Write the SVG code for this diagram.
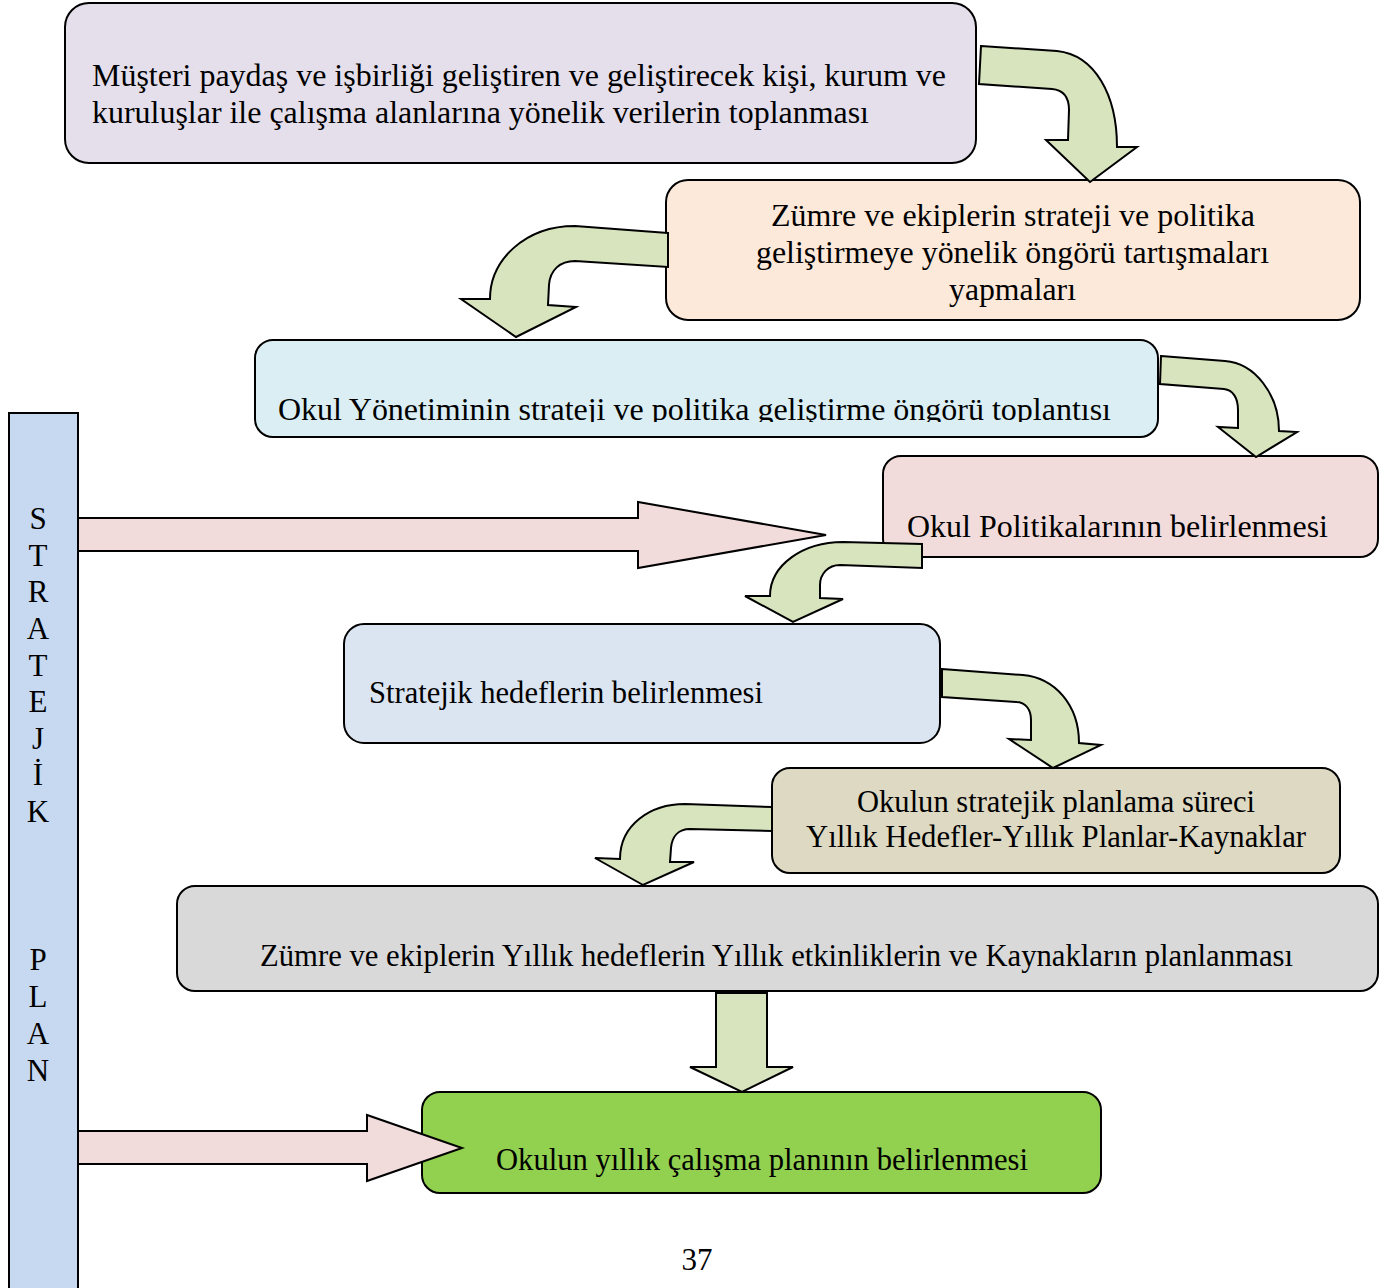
<svg xmlns="http://www.w3.org/2000/svg" width="1395" height="1288" viewBox="0 0 1395 1288">
<style>
.box{stroke:#000;stroke-width:2}
.t{font-family:"Liberation Serif","Times New Roman",serif;font-size:31px;fill:#000}
.c{text-anchor:middle}
.g{fill:#d7e4bd;stroke:#000;stroke-width:2;stroke-linejoin:miter}
.p{fill:#f2dcdb;stroke:#000;stroke-width:2}
</style>
<defs>
<clipPath id="clip3"><rect x="255" y="340" width="903" height="82"/></clipPath>
</defs>
<rect width="1395" height="1288" fill="#fff"/>

<g id="side-bar">
<rect x="9" y="413" width="69" height="890" fill="#c6d9f1" class="box"/>
<g class="t c">
<text x="38" y="529">S</text>
<text x="38" y="566">T</text>
<text x="38" y="602">R</text>
<text x="38" y="639">A</text>
<text x="38" y="676">T</text>
<text x="38" y="712">E</text>
<text x="38" y="749">J</text>
<text x="38" y="785">İ</text>
<text x="38" y="822">K</text>
<text x="38" y="970">P</text>
<text x="38" y="1007">L</text>
<text x="38" y="1044">A</text>
<text x="38" y="1081">N</text>
</g>
</g>

<g id="node1">
<rect x="65" y="3" width="911" height="160" rx="24" fill="#e5dfec" class="box"/>
<text class="t" x="92" y="86" textLength="854" lengthAdjust="spacingAndGlyphs">Müşteri paydaş ve işbirliği geliştiren ve geliştirecek kişi, kurum ve</text>
<text class="t" x="92" y="123" textLength="777" lengthAdjust="spacingAndGlyphs">kuruluşlar ile çalışma alanlarına yönelik verilerin toplanması</text>
</g>

<g id="node2">
<rect x="666" y="180" width="694" height="140" rx="22" fill="#fde9d9" class="box"/>
<text class="t" x="771" y="226" textLength="484" lengthAdjust="spacingAndGlyphs">Zümre ve ekiplerin strateji ve politika</text>
<text class="t" x="756" y="263" textLength="513" lengthAdjust="spacingAndGlyphs">geliştirmeye yönelik öngörü tartışmaları</text>
<text class="t" x="949" y="300" textLength="127" lengthAdjust="spacingAndGlyphs">yapmaları</text>
</g>

<g id="node3">
<rect x="255" y="340" width="903" height="97" rx="18" fill="#daeef3" class="box"/>
<text class="t" x="278" y="420" clip-path="url(#clip3)" textLength="833" lengthAdjust="spacingAndGlyphs">Okul Yönetiminin strateji ve politika geliştirme öngörü toplantısı</text>
</g>

<g id="node4">
<rect x="883" y="456" width="495" height="101" rx="18" fill="#f2dcdb" class="box"/>
<text class="t" x="907" y="537" textLength="421" lengthAdjust="spacingAndGlyphs">Okul Politikalarının belirlenmesi</text>
</g>

<g id="node5">
<rect x="344" y="624" width="596" height="119" rx="20" fill="#dbe5f1" class="box"/>
<text class="t" x="369" y="703" textLength="394" lengthAdjust="spacingAndGlyphs">Stratejik hedeflerin belirlenmesi</text>
</g>

<g id="node6">
<rect x="772" y="768" width="568" height="105" rx="18" fill="#ddd9c3" class="box"/>
<text class="t" x="857" y="812" textLength="398" lengthAdjust="spacingAndGlyphs">Okulun stratejik planlama süreci</text>
<text class="t" x="806" y="847" textLength="500" lengthAdjust="spacingAndGlyphs">Yıllık Hedefler-Yıllık Planlar-Kaynaklar</text>
</g>

<g id="node7">
<rect x="177" y="886" width="1201" height="105" rx="18" fill="#d9d9d9" class="box"/>
<text class="t" x="260" y="966" textLength="1033" lengthAdjust="spacingAndGlyphs">Zümre ve ekiplerin Yıllık hedeflerin Yıllık etkinliklerin ve Kaynakların planlanması</text>
</g>

<g id="connectors">
<path class="g" d="M981,46 L1057,51 C1095,55 1117,95 1117,147 L1137,147 L1090,182 L1046,140 L1068,140 L1069,110 C1069,98 1064,90 1052,89 L979,84 Z"/>
<path class="g" d="M668,233 L575,226 C525,226 490,260 490,299 L461,299 L516,337 L576,307 L548,305 L549,285 C550,270 560,261 575,261 L668,267 Z"/>
<path class="g" d="M1161,356 L1225,361 C1255,363 1279,395 1279,431 L1297,432 L1256,457 L1218,427 L1238,428 L1238,410 C1238,398 1233,390 1224,389 L1160,384 Z"/>
<path class="g" d="M922,544 L843,542 C803,542 770,565 770,596 L745,596 L793,622 L843,599 L820,598 L820,585 C820,574 828,565 840,565 L922,568 Z"/>
<path class="g" d="M942,669 L1023,675 C1055,678 1079,705 1079,743 L1101,745 L1053,768 L1009,739 L1031,740 L1031,720 C1031,710 1026,702 1016,702 L942,697 Z"/>
<path class="g" d="M772,807 L685,804 C650,804 620,825 620,859 L595,858 L643,885 L694,862 L670,862 L671,848 C672,837 678,829 690,829 L772,831 Z"/>
<path class="g" d="M716,993 L767,993 L767,1067 L793,1067 L742,1092 L690,1067 L716,1067 Z"/>
<path class="p" d="M78,518 L638,518 L638,502 L826,535 L638,568 L638,551 L78,551 Z"/>
</g>

<g id="node8">
<rect x="422" y="1092" width="679" height="101" rx="18" fill="#92d050" class="box"/>
<text class="t" x="496" y="1170" textLength="532" lengthAdjust="spacingAndGlyphs">Okulun yıllık çalışma planının belirlenmesi</text>
</g>

<g id="connectors-2">
<path class="p" d="M78,1131 L367,1131 L367,1115 L462,1148 L367,1181 L367,1164 L78,1164 Z"/>
</g>

<text class="t c" x="697" y="1270">37</text>
</svg>
